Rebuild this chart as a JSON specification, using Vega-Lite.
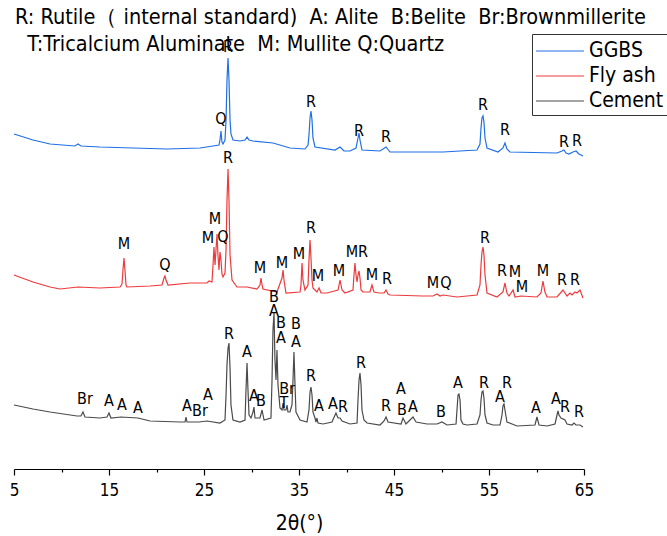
{
"$schema":"https://vega.github.io/schema/vega-lite/v6.json",
"width":570,"height":469,
"autosize":{"type":"none"},
"padding":{"left":14,"top":0,"right":83,"bottom":67},
"background":"white",
"config":{"view":{"stroke":null}},
"title":{"text":["R: Rutile（ internal standard) \u00a0A: Alite \u00a0B:Belite \u00a0Br:Brownmillerite","\u200b\u00a0\u00a0T:Tricalcium Aluminate \u00a0M: Mullite Q:Quartz"],"anchor":"start","frame":"group","orient":"top","baseline":"top","offset":-55,"dx":1,"font":"'Liberation Sans Narrow', 'Arial Narrow', 'DejaVu Sans Condensed', sans-serif","fontSize":21.5,"fontWeight":"normal","color":"black","lineHeight":27},
"datasets":{
"curves":[
{"sample":"GGBS","theta":5.00,"intensity":335},{"sample":"GGBS","theta":7.00,"intensity":329},{"sample":"GGBS","theta":8.79,"intensity":325},{"sample":"GGBS","theta":11.42,"intensity":323},{"sample":"GGBS","theta":11.74,"intensity":325},{"sample":"GGBS","theta":12.05,"intensity":323},{"sample":"GGBS","theta":14.05,"intensity":322},{"sample":"GGBS","theta":17.53,"intensity":321},{"sample":"GGBS","theta":21.11,"intensity":320},{"sample":"GGBS","theta":24.58,"intensity":321},{"sample":"GGBS","theta":25.95,"intensity":323},{"sample":"GGBS","theta":26.58,"intensity":324},{"sample":"GGBS","theta":26.68,"intensity":329},{"sample":"GGBS","theta":26.79,"intensity":338},{"sample":"GGBS","theta":26.89,"intensity":327},{"sample":"GGBS","theta":27.00,"intensity":325},{"sample":"GGBS","theta":27.21,"intensity":329},{"sample":"GGBS","theta":27.32,"intensity":349},{"sample":"GGBS","theta":27.42,"intensity":389},{"sample":"GGBS","theta":27.53,"intensity":411},{"sample":"GGBS","theta":27.63,"intensity":389},{"sample":"GGBS","theta":27.74,"intensity":349},{"sample":"GGBS","theta":27.84,"intensity":335},{"sample":"GGBS","theta":28.05,"intensity":329},{"sample":"GGBS","theta":28.79,"intensity":328},{"sample":"GGBS","theta":29.32,"intensity":329},{"sample":"GGBS","theta":29.53,"intensity":332},{"sample":"GGBS","theta":29.74,"intensity":329},{"sample":"GGBS","theta":30.16,"intensity":328},{"sample":"GGBS","theta":32.26,"intensity":326},{"sample":"GGBS","theta":34.05,"intensity":321},{"sample":"GGBS","theta":35.63,"intensity":320},{"sample":"GGBS","theta":35.95,"intensity":324},{"sample":"GGBS","theta":36.05,"intensity":334},{"sample":"GGBS","theta":36.16,"intensity":351},{"sample":"GGBS","theta":36.26,"intensity":358},{"sample":"GGBS","theta":36.37,"intensity":349},{"sample":"GGBS","theta":36.47,"intensity":331},{"sample":"GGBS","theta":36.68,"intensity":322},{"sample":"GGBS","theta":38.79,"intensity":319},{"sample":"GGBS","theta":39.32,"intensity":322},{"sample":"GGBS","theta":39.74,"intensity":318},{"sample":"GGBS","theta":40.37,"intensity":318},{"sample":"GGBS","theta":41.00,"intensity":321},{"sample":"GGBS","theta":41.21,"intensity":331},{"sample":"GGBS","theta":41.32,"intensity":336},{"sample":"GGBS","theta":41.42,"intensity":329},{"sample":"GGBS","theta":41.63,"intensity":319},{"sample":"GGBS","theta":43.53,"intensity":318},{"sample":"GGBS","theta":44.16,"intensity":322},{"sample":"GGBS","theta":44.58,"intensity":317},{"sample":"GGBS","theta":46.37,"intensity":317},{"sample":"GGBS","theta":50.16,"intensity":317},{"sample":"GGBS","theta":53.74,"intensity":319},{"sample":"GGBS","theta":54.05,"intensity":325},{"sample":"GGBS","theta":54.16,"intensity":341},{"sample":"GGBS","theta":54.26,"intensity":351},{"sample":"GGBS","theta":54.37,"intensity":353},{"sample":"GGBS","theta":54.47,"intensity":347},{"sample":"GGBS","theta":54.58,"intensity":331},{"sample":"GGBS","theta":54.79,"intensity":321},{"sample":"GGBS","theta":55.95,"intensity":317},{"sample":"GGBS","theta":56.47,"intensity":321},{"sample":"GGBS","theta":56.68,"intensity":326},{"sample":"GGBS","theta":56.89,"intensity":320},{"sample":"GGBS","theta":57.21,"intensity":317},{"sample":"GGBS","theta":62.16,"intensity":316},{"sample":"GGBS","theta":62.68,"intensity":318},{"sample":"GGBS","theta":62.89,"intensity":319},{"sample":"GGBS","theta":63.11,"intensity":316},{"sample":"GGBS","theta":63.42,"intensity":315},{"sample":"GGBS","theta":63.84,"intensity":317},{"sample":"GGBS","theta":64.16,"intensity":318},{"sample":"GGBS","theta":64.47,"intensity":315},{"sample":"GGBS","theta":64.89,"intensity":313},
{"sample":"Fly ash","theta":5.00,"intensity":194},{"sample":"Fly ash","theta":7.00,"intensity":187},{"sample":"Fly ash","theta":8.79,"intensity":182},{"sample":"Fly ash","theta":9.84,"intensity":180},{"sample":"Fly ash","theta":11.74,"intensity":182},{"sample":"Fly ash","theta":14.05,"intensity":181},{"sample":"Fly ash","theta":16.16,"intensity":182},{"sample":"Fly ash","theta":16.37,"intensity":185},{"sample":"Fly ash","theta":16.47,"intensity":199},{"sample":"Fly ash","theta":16.58,"intensity":211},{"sample":"Fly ash","theta":16.68,"intensity":199},{"sample":"Fly ash","theta":16.79,"intensity":184},{"sample":"Fly ash","theta":16.89,"intensity":182},{"sample":"Fly ash","theta":19.32,"intensity":183},{"sample":"Fly ash","theta":20.58,"intensity":184},{"sample":"Fly ash","theta":20.79,"intensity":191},{"sample":"Fly ash","theta":20.89,"intensity":193},{"sample":"Fly ash","theta":21.00,"intensity":189},{"sample":"Fly ash","theta":21.21,"intensity":184},{"sample":"Fly ash","theta":23.53,"intensity":186},{"sample":"Fly ash","theta":25.32,"intensity":186},{"sample":"Fly ash","theta":25.53,"intensity":188},{"sample":"Fly ash","theta":25.84,"intensity":187},{"sample":"Fly ash","theta":25.95,"intensity":204},{"sample":"Fly ash","theta":26.05,"intensity":222},{"sample":"Fly ash","theta":26.16,"intensity":204},{"sample":"Fly ash","theta":26.26,"intensity":219},{"sample":"Fly ash","theta":26.37,"intensity":235},{"sample":"Fly ash","theta":26.47,"intensity":214},{"sample":"Fly ash","theta":26.58,"intensity":199},{"sample":"Fly ash","theta":26.68,"intensity":217},{"sample":"Fly ash","theta":26.79,"intensity":209},{"sample":"Fly ash","theta":26.89,"intensity":195},{"sample":"Fly ash","theta":27.00,"intensity":192},{"sample":"Fly ash","theta":27.21,"intensity":196},{"sample":"Fly ash","theta":27.32,"intensity":219},{"sample":"Fly ash","theta":27.42,"intensity":269},{"sample":"Fly ash","theta":27.53,"intensity":300},{"sample":"Fly ash","theta":27.63,"intensity":269},{"sample":"Fly ash","theta":27.74,"intensity":214},{"sample":"Fly ash","theta":27.95,"intensity":189},{"sample":"Fly ash","theta":28.47,"intensity":182},{"sample":"Fly ash","theta":29.53,"intensity":182},{"sample":"Fly ash","theta":30.58,"intensity":180},{"sample":"Fly ash","theta":30.89,"intensity":184},{"sample":"Fly ash","theta":31.00,"intensity":191},{"sample":"Fly ash","theta":31.11,"intensity":184},{"sample":"Fly ash","theta":31.21,"intensity":180},{"sample":"Fly ash","theta":32.68,"intensity":177},{"sample":"Fly ash","theta":33.21,"intensity":191},{"sample":"Fly ash","theta":33.32,"intensity":199},{"sample":"Fly ash","theta":33.42,"intensity":189},{"sample":"Fly ash","theta":33.63,"intensity":176},{"sample":"Fly ash","theta":35.11,"intensity":177},{"sample":"Fly ash","theta":35.21,"intensity":184},{"sample":"Fly ash","theta":35.32,"intensity":206},{"sample":"Fly ash","theta":35.42,"intensity":189},{"sample":"Fly ash","theta":35.63,"intensity":179},{"sample":"Fly ash","theta":35.95,"intensity":184},{"sample":"Fly ash","theta":36.05,"intensity":209},{"sample":"Fly ash","theta":36.16,"intensity":229},{"sample":"Fly ash","theta":36.26,"intensity":211},{"sample":"Fly ash","theta":36.37,"intensity":189},{"sample":"Fly ash","theta":36.47,"intensity":181},{"sample":"Fly ash","theta":36.89,"intensity":177},{"sample":"Fly ash","theta":37.11,"intensity":181},{"sample":"Fly ash","theta":37.32,"intensity":176},{"sample":"Fly ash","theta":37.95,"intensity":176},{"sample":"Fly ash","theta":39.11,"intensity":179},{"sample":"Fly ash","theta":39.32,"intensity":189},{"sample":"Fly ash","theta":39.53,"intensity":179},{"sample":"Fly ash","theta":39.84,"intensity":176},{"sample":"Fly ash","theta":40.68,"intensity":179},{"sample":"Fly ash","theta":40.79,"intensity":194},{"sample":"Fly ash","theta":40.89,"intensity":206},{"sample":"Fly ash","theta":41.00,"intensity":194},{"sample":"Fly ash","theta":41.11,"intensity":187},{"sample":"Fly ash","theta":41.21,"intensity":194},{"sample":"Fly ash","theta":41.32,"intensity":198},{"sample":"Fly ash","theta":41.42,"intensity":191},{"sample":"Fly ash","theta":41.53,"intensity":179},{"sample":"Fly ash","theta":41.74,"intensity":177},{"sample":"Fly ash","theta":42.47,"intensity":177},{"sample":"Fly ash","theta":42.68,"intensity":184},{"sample":"Fly ash","theta":42.89,"intensity":177},{"sample":"Fly ash","theta":43.42,"intensity":176},{"sample":"Fly ash","theta":43.95,"intensity":176},{"sample":"Fly ash","theta":44.16,"intensity":179},{"sample":"Fly ash","theta":44.37,"intensity":175},{"sample":"Fly ash","theta":44.58,"intensity":174},{"sample":"Fly ash","theta":48.05,"intensity":173},{"sample":"Fly ash","theta":49.11,"intensity":173},{"sample":"Fly ash","theta":49.53,"intensity":175},{"sample":"Fly ash","theta":49.84,"intensity":173},{"sample":"Fly ash","theta":50.16,"intensity":174},{"sample":"Fly ash","theta":51.63,"intensity":172},{"sample":"Fly ash","theta":53.74,"intensity":174},{"sample":"Fly ash","theta":54.05,"intensity":184},{"sample":"Fly ash","theta":54.16,"intensity":204},{"sample":"Fly ash","theta":54.26,"intensity":217},{"sample":"Fly ash","theta":54.37,"intensity":222},{"sample":"Fly ash","theta":54.47,"intensity":214},{"sample":"Fly ash","theta":54.58,"intensity":194},{"sample":"Fly ash","theta":54.79,"intensity":176},{"sample":"Fly ash","theta":55.84,"intensity":172},{"sample":"Fly ash","theta":56.47,"intensity":177},{"sample":"Fly ash","theta":56.68,"intensity":186},{"sample":"Fly ash","theta":56.89,"intensity":176},{"sample":"Fly ash","theta":57.11,"intensity":173},{"sample":"Fly ash","theta":57.53,"intensity":179},{"sample":"Fly ash","theta":57.74,"intensity":172},{"sample":"Fly ash","theta":58.37,"intensity":173},{"sample":"Fly ash","theta":60.05,"intensity":172},{"sample":"Fly ash","theta":60.47,"intensity":176},{"sample":"Fly ash","theta":60.68,"intensity":188},{"sample":"Fly ash","theta":60.89,"intensity":177},{"sample":"Fly ash","theta":61.11,"intensity":172},{"sample":"Fly ash","theta":62.16,"intensity":172},{"sample":"Fly ash","theta":62.79,"intensity":179},{"sample":"Fly ash","theta":63.21,"intensity":173},{"sample":"Fly ash","theta":63.53,"intensity":176},{"sample":"Fly ash","theta":63.74,"intensity":174},{"sample":"Fly ash","theta":64.05,"intensity":177},{"sample":"Fly ash","theta":64.26,"intensity":176},{"sample":"Fly ash","theta":64.58,"intensity":179},{"sample":"Fly ash","theta":64.89,"intensity":171},
{"sample":"Cement","theta":5.00,"intensity":64},{"sample":"Cement","theta":7.00,"intensity":60},{"sample":"Cement","theta":8.79,"intensity":57},{"sample":"Cement","theta":11.63,"intensity":53},{"sample":"Cement","theta":12.05,"intensity":53},{"sample":"Cement","theta":12.26,"intensity":57},{"sample":"Cement","theta":12.47,"intensity":52},{"sample":"Cement","theta":14.05,"intensity":51},{"sample":"Cement","theta":14.79,"intensity":52},{"sample":"Cement","theta":15.00,"intensity":56},{"sample":"Cement","theta":15.21,"intensity":51},{"sample":"Cement","theta":16.26,"intensity":52},{"sample":"Cement","theta":18.05,"intensity":51},{"sample":"Cement","theta":19.32,"intensity":48},{"sample":"Cement","theta":22.47,"intensity":47},{"sample":"Cement","theta":23.00,"intensity":47},{"sample":"Cement","theta":23.11,"intensity":52},{"sample":"Cement","theta":23.21,"intensity":47},{"sample":"Cement","theta":24.47,"intensity":47},{"sample":"Cement","theta":25.32,"intensity":48},{"sample":"Cement","theta":26.68,"intensity":46},{"sample":"Cement","theta":27.21,"intensity":49},{"sample":"Cement","theta":27.32,"intensity":74},{"sample":"Cement","theta":27.42,"intensity":104},{"sample":"Cement","theta":27.53,"intensity":121},{"sample":"Cement","theta":27.63,"intensity":126},{"sample":"Cement","theta":27.74,"intensity":101},{"sample":"Cement","theta":27.84,"intensity":64},{"sample":"Cement","theta":28.05,"intensity":49},{"sample":"Cement","theta":28.79,"intensity":47},{"sample":"Cement","theta":29.32,"intensity":49},{"sample":"Cement","theta":29.42,"intensity":79},{"sample":"Cement","theta":29.53,"intensity":106},{"sample":"Cement","theta":29.63,"intensity":79},{"sample":"Cement","theta":29.74,"intensity":54},{"sample":"Cement","theta":29.95,"intensity":51},{"sample":"Cement","theta":30.16,"intensity":57},{"sample":"Cement","theta":30.26,"intensity":62},{"sample":"Cement","theta":30.37,"intensity":51},{"sample":"Cement","theta":30.89,"intensity":51},{"sample":"Cement","theta":31.11,"intensity":59},{"sample":"Cement","theta":31.32,"intensity":49},{"sample":"Cement","theta":32.05,"intensity":51},{"sample":"Cement","theta":32.16,"intensity":89},{"sample":"Cement","theta":32.26,"intensity":139},{"sample":"Cement","theta":32.37,"intensity":156},{"sample":"Cement","theta":32.47,"intensity":109},{"sample":"Cement","theta":32.58,"intensity":89},{"sample":"Cement","theta":32.68,"intensity":119},{"sample":"Cement","theta":32.79,"intensity":84},{"sample":"Cement","theta":33.00,"intensity":61},{"sample":"Cement","theta":33.21,"intensity":59},{"sample":"Cement","theta":33.32,"intensity":66},{"sample":"Cement","theta":33.42,"intensity":59},{"sample":"Cement","theta":33.63,"intensity":59},{"sample":"Cement","theta":33.74,"intensity":64},{"sample":"Cement","theta":33.84,"intensity":57},{"sample":"Cement","theta":34.05,"intensity":57},{"sample":"Cement","theta":34.26,"intensity":64},{"sample":"Cement","theta":34.37,"intensity":89},{"sample":"Cement","theta":34.47,"intensity":117},{"sample":"Cement","theta":34.58,"intensity":84},{"sample":"Cement","theta":34.68,"intensity":57},{"sample":"Cement","theta":35.11,"intensity":49},{"sample":"Cement","theta":35.84,"intensity":47},{"sample":"Cement","theta":36.05,"intensity":59},{"sample":"Cement","theta":36.16,"intensity":77},{"sample":"Cement","theta":36.26,"intensity":82},{"sample":"Cement","theta":36.37,"intensity":74},{"sample":"Cement","theta":36.47,"intensity":57},{"sample":"Cement","theta":36.68,"intensity":51},{"sample":"Cement","theta":36.79,"intensity":47},{"sample":"Cement","theta":36.89,"intensity":51},{"sample":"Cement","theta":37.00,"intensity":46},{"sample":"Cement","theta":37.53,"intensity":45},{"sample":"Cement","theta":38.47,"intensity":47},{"sample":"Cement","theta":38.89,"intensity":56},{"sample":"Cement","theta":39.11,"intensity":51},{"sample":"Cement","theta":39.32,"intensity":51},{"sample":"Cement","theta":39.53,"intensity":48},{"sample":"Cement","theta":40.37,"intensity":45},{"sample":"Cement","theta":41.11,"intensity":46},{"sample":"Cement","theta":41.21,"intensity":69},{"sample":"Cement","theta":41.32,"intensity":89},{"sample":"Cement","theta":41.42,"intensity":96},{"sample":"Cement","theta":41.53,"intensity":84},{"sample":"Cement","theta":41.63,"intensity":59},{"sample":"Cement","theta":41.84,"intensity":49},{"sample":"Cement","theta":42.16,"intensity":46},{"sample":"Cement","theta":43.53,"intensity":44},{"sample":"Cement","theta":43.95,"intensity":48},{"sample":"Cement","theta":44.16,"intensity":52},{"sample":"Cement","theta":44.37,"intensity":47},{"sample":"Cement","theta":45.74,"intensity":45},{"sample":"Cement","theta":45.95,"intensity":51},{"sample":"Cement","theta":46.26,"intensity":45},{"sample":"Cement","theta":46.68,"intensity":49},{"sample":"Cement","theta":47.00,"intensity":52},{"sample":"Cement","theta":47.32,"intensity":47},{"sample":"Cement","theta":48.47,"intensity":45},{"sample":"Cement","theta":49.53,"intensity":45},{"sample":"Cement","theta":50.05,"intensity":47},{"sample":"Cement","theta":50.58,"intensity":44},{"sample":"Cement","theta":51.53,"intensity":45},{"sample":"Cement","theta":51.63,"intensity":59},{"sample":"Cement","theta":51.74,"intensity":74},{"sample":"Cement","theta":51.84,"intensity":75},{"sample":"Cement","theta":51.95,"intensity":69},{"sample":"Cement","theta":52.05,"intensity":49},{"sample":"Cement","theta":52.26,"intensity":45},{"sample":"Cement","theta":52.68,"intensity":44},{"sample":"Cement","theta":53.74,"intensity":45},{"sample":"Cement","theta":54.05,"intensity":54},{"sample":"Cement","theta":54.16,"intensity":69},{"sample":"Cement","theta":54.26,"intensity":77},{"sample":"Cement","theta":54.37,"intensity":78},{"sample":"Cement","theta":54.47,"intensity":71},{"sample":"Cement","theta":54.58,"intensity":54},{"sample":"Cement","theta":54.79,"intensity":46},{"sample":"Cement","theta":55.42,"intensity":44},{"sample":"Cement","theta":56.16,"intensity":44},{"sample":"Cement","theta":56.37,"intensity":54},{"sample":"Cement","theta":56.47,"intensity":63},{"sample":"Cement","theta":56.58,"intensity":65},{"sample":"Cement","theta":56.68,"intensity":59},{"sample":"Cement","theta":56.89,"intensity":47},{"sample":"Cement","theta":57.95,"intensity":43},{"sample":"Cement","theta":59.84,"intensity":44},{"sample":"Cement","theta":60.05,"intensity":52},{"sample":"Cement","theta":60.26,"intensity":44},{"sample":"Cement","theta":61.11,"intensity":43},{"sample":"Cement","theta":61.95,"intensity":45},{"sample":"Cement","theta":62.16,"intensity":54},{"sample":"Cement","theta":62.26,"intensity":58},{"sample":"Cement","theta":62.37,"intensity":54},{"sample":"Cement","theta":62.58,"intensity":51},{"sample":"Cement","theta":63.00,"intensity":49},{"sample":"Cement","theta":63.21,"intensity":45},{"sample":"Cement","theta":63.74,"intensity":44},{"sample":"Cement","theta":63.95,"intensity":46},{"sample":"Cement","theta":64.16,"intensity":44},{"sample":"Cement","theta":64.58,"intensity":44},{"sample":"Cement","theta":64.89,"intensity":42}
],
"labels":[
{"label":"Q","theta":26.79,"intensity":350},{"label":"R","theta":27.53,"intensity":422},{"label":"R","theta":36.26,"intensity":367},{"label":"R","theta":41.32,"intensity":338},{"label":"R","theta":44.16,"intensity":332},{"label":"R","theta":54.37,"intensity":364},{"label":"R","theta":56.68,"intensity":339},{"label":"R","theta":62.89,"intensity":327},{"label":"R","theta":64.26,"intensity":328},
{"label":"M","theta":16.58,"intensity":225},{"label":"Q","theta":20.89,"intensity":204},{"label":"M","theta":25.42,"intensity":231},{"label":"M","theta":26.16,"intensity":250},{"label":"Q","theta":27.0,"intensity":232},{"label":"R","theta":27.53,"intensity":311},{"label":"M","theta":30.89,"intensity":201},{"label":"M","theta":33.21,"intensity":206},{"label":"M","theta":35.0,"intensity":215},{"label":"R","theta":36.26,"intensity":241},{"label":"M","theta":37.0,"intensity":193},{"label":"M","theta":39.21,"intensity":198},{"label":"M","theta":40.58,"intensity":217},{"label":"R","theta":41.74,"intensity":217},{"label":"M","theta":42.68,"intensity":194},{"label":"R","theta":44.26,"intensity":190},{"label":"M","theta":49.11,"intensity":186},{"label":"Q","theta":50.47,"intensity":186},{"label":"R","theta":54.58,"intensity":231},{"label":"R","theta":56.37,"intensity":198},{"label":"M","theta":57.74,"intensity":197},{"label":"M","theta":58.47,"intensity":182},{"label":"M","theta":60.68,"intensity":198},{"label":"R","theta":62.68,"intensity":189},{"label":"R","theta":64.05,"intensity":189},
{"label":"Br","theta":12.47,"intensity":70},{"label":"A","theta":15.0,"intensity":68},{"label":"A","theta":16.37,"intensity":64},{"label":"A","theta":18.05,"intensity":61},{"label":"A","theta":23.21,"intensity":63},{"label":"Br","theta":24.58,"intensity":58},{"label":"A","theta":25.42,"intensity":74},{"label":"R","theta":27.63,"intensity":135},{"label":"A","theta":29.53,"intensity":117},{"label":"A","theta":30.26,"intensity":73},{"label":"B","theta":31.0,"intensity":68},{"label":"B","theta":32.37,"intensity":172},{"label":"A","theta":32.37,"intensity":158},{"label":"B","theta":33.11,"intensity":146},{"label":"A","theta":33.11,"intensity":131},{"label":"Br","theta":33.74,"intensity":80},{"label":"T","theta":33.42,"intensity":66},{"label":"B","theta":34.68,"intensity":145},{"label":"A","theta":34.68,"intensity":127},{"label":"R","theta":36.26,"intensity":93},{"label":"A","theta":37.11,"intensity":63},{"label":"A","theta":38.58,"intensity":65},{"label":"R","theta":39.63,"intensity":62},{"label":"R","theta":41.53,"intensity":106},{"label":"R","theta":44.16,"intensity":63},{"label":"A","theta":45.74,"intensity":80},{"label":"B","theta":45.84,"intensity":59},{"label":"A","theta":47.0,"intensity":62},{"label":"B","theta":49.95,"intensity":57},{"label":"A","theta":51.74,"intensity":86},{"label":"R","theta":54.47,"intensity":86},{"label":"A","theta":56.16,"intensity":72},{"label":"R","theta":56.89,"intensity":86},{"label":"A","theta":59.95,"intensity":61},{"label":"A","theta":62.05,"intensity":70},{"label":"R","theta":63.0,"intensity":62},{"label":"R","theta":64.47,"intensity":57}
]},
"layer":[
{"data":{"name":"curves"},
 "mark":{"type":"line","strokeWidth":1.2,"clip":false},
 "encoding":{
  "x":{"field":"theta","type":"quantitative","scale":{"domain":[5,65],"nice":false,"zero":false},
   "axis":{"values":[5,10,15,20,25,30,35,40,45,50,55,60,65],"labelExpr":"datum.value % 10 == 5 ? datum.label : ''","labelFlush":false,"labelOverlap":false,"grid":false,
     "tickSize":{"condition":{"test":"datum.value % 10 == 5","value":6},"value":3},
     "domainColor":"black","domainWidth":1.2,"tickColor":"black","tickWidth":1.2,
     "labelFont":"'Liberation Sans Narrow', 'Arial Narrow', 'DejaVu Sans Condensed', sans-serif","labelFontSize":17,"labelColor":"black","labelPadding":7,
     "title":"2θ(°)","titleFont":"'Liberation Sans Narrow', 'Arial Narrow', 'DejaVu Sans Condensed', sans-serif","titleFontSize":21,"titleFontWeight":"normal","titleColor":"black","titlePadding":14}},
  "y":{"field":"intensity","type":"quantitative","scale":{"domain":[0,469],"nice":false,"zero":false},"axis":null},
  "color":{"field":"sample","type":"nominal","scale":{"domain":["GGBS","Fly ash","Cement"],"range":["#1F6FE5","#EE3A3C","#4A4A4A"]},
   "legend":{"orient":"none","legendX":518,"legendY":34,"title":null,"symbolType":"M-2,0H2","symbolSize":576,"symbolStrokeWidth":1.2,"symbolOffset":11,"labelFont":"'Liberation Sans Narrow', 'Arial Narrow', 'DejaVu Sans Condensed', sans-serif","labelFontSize":21,"labelColor":"black","strokeColor":"#333333","fillColor":"white","padding":4,"rowPadding":2,"labelOffset":16}}
 }},
{"data":{"name":"labels"},
 "mark":{"type":"text","font":"'Liberation Sans Narrow', 'Arial Narrow', 'DejaVu Sans Condensed', sans-serif","fontSize":16,"color":"black","align":"center","baseline":"middle"},
 "encoding":{
  "x":{"field":"theta","type":"quantitative"},
  "y":{"field":"intensity","type":"quantitative"},
  "text":{"field":"label"}
 }}
]
}
